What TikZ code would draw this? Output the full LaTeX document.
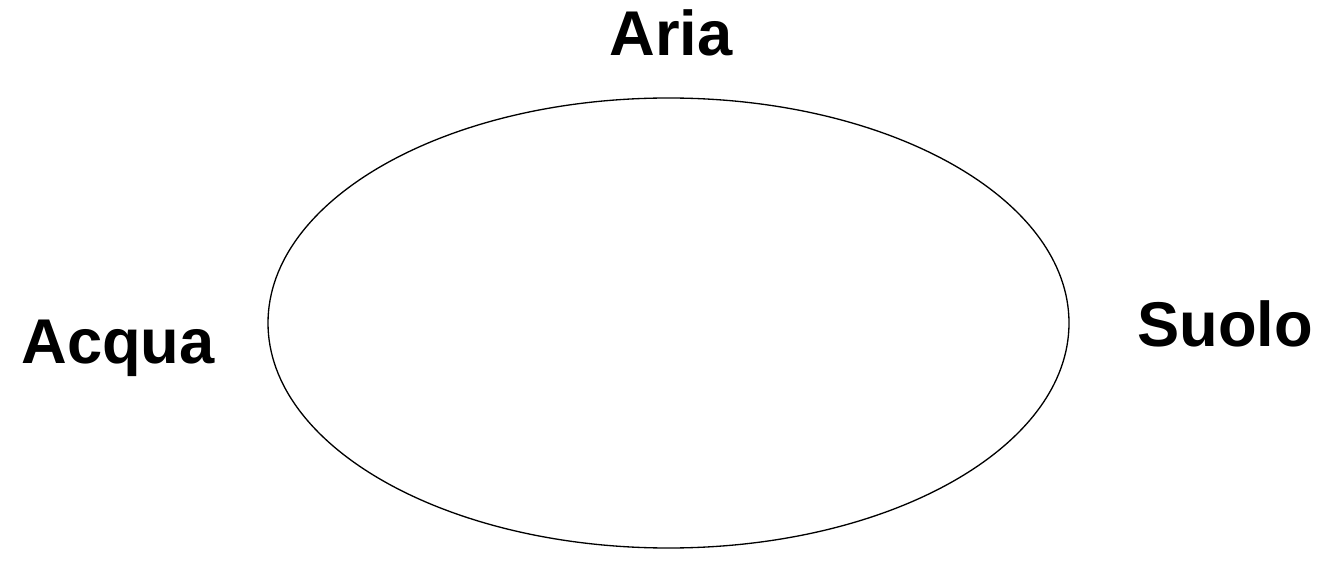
\documentclass[tikz,border=0pt]{standalone}
\usepackage{fontspec}
\setmainfont{Liberation Sans}
\usetikzlibrary{shapes.geometric}

\begin{document}
\begin{tikzpicture}[x=0.02cm, y=-0.02cm]
    \useasboundingbox (0,0) rectangle (1321,577);
    \tikzset{medium/.style={font=\fontsize{36}{40}\selectfont\bfseries, inner sep=0pt, anchor=base}}
    \node[draw, ellipse, line width=0.75pt, minimum width=801*0.02cm, minimum height=450*0.02cm, inner sep=0pt] (cycle) at (668.5,323) {};
    \node[medium] (aria) at (671,56) {Aria};
    \node[medium] (acqua) at (118,363) {Acqua};
    \node[medium] (suolo) at (1225,346) {Suolo};
\end{tikzpicture}
\end{document}
